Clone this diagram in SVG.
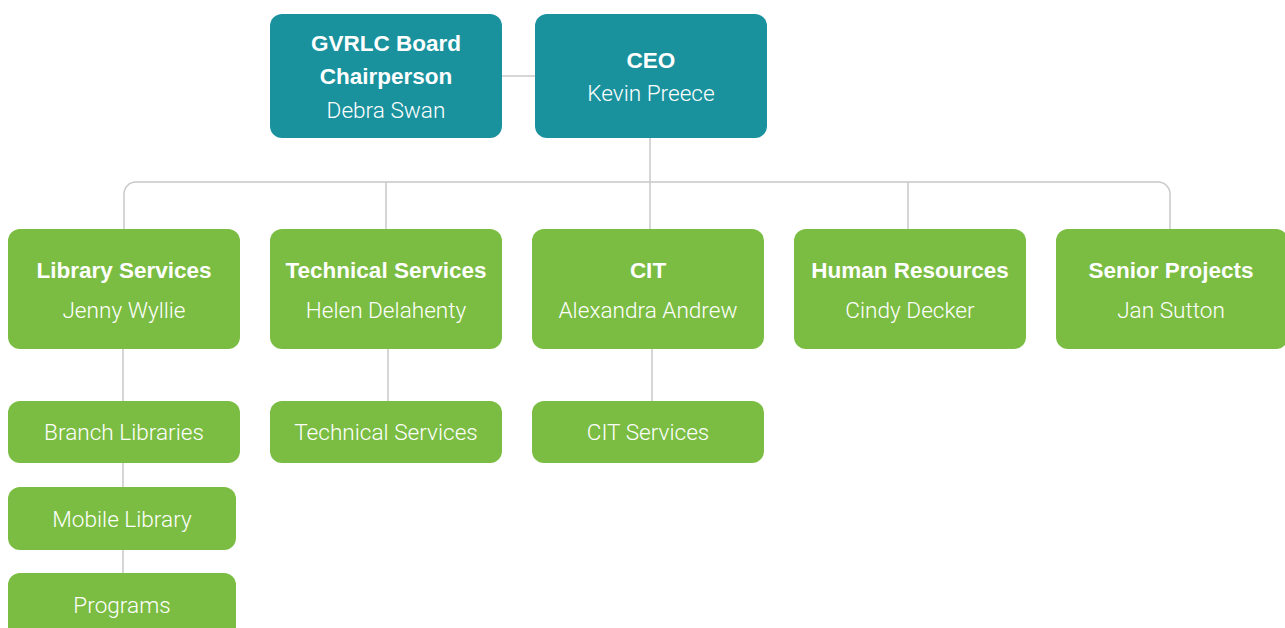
<svg xmlns="http://www.w3.org/2000/svg" width="1285" height="628" viewBox="0 0 1285 628">
<style>
.teal{fill:#1A929E}
.green{fill:#7ABD42}
.t{font-family:"Liberation Sans",Arial,sans-serif;font-weight:bold;font-size:22.5px;fill:#fff;text-anchor:middle}
.n{font-family:Roboto,"Liberation Sans",sans-serif;font-weight:300;font-size:22.6px;fill:#fff;text-anchor:middle}
.c{fill:none;stroke:#C8C8C8;stroke-width:1.5}
</style>
<rect width="1285" height="628" fill="#fff"/>
<g id="connectors">
<path class="c" d="M502 76H535"/>
<path class="c" d="M650 138V229"/>
<path class="c" d="M124 229V194a12 12 0 0 1 12-12H1158a12 12 0 0 1 12 12V229"/>
<path class="c" d="M386 182V229M908 182V229"/>
<path class="c" d="M123 349V401M123 463V487M123 550V573"/>
<path class="c" d="M388 349V401"/>
<path class="c" d="M652 349V401"/>
</g>
<g id="board"><rect class="teal" x="270" y="14" width="232" height="124" rx="12"/>
<text class="t" x="386" y="51">GVRLC Board</text><text class="t" x="386" y="84">Chairperson</text><text class="n" x="386" y="118">Debra Swan</text></g>
<g id="ceo"><rect class="teal" x="535" y="14" width="232" height="124" rx="12"/>
<text class="t" x="651" y="68">CEO</text><text class="n" x="651" y="101">Kevin Preece</text></g>
<g id="library"><rect class="green" x="8" y="229" width="232" height="120" rx="12"/>
<text class="t" x="124" y="278">Library Services</text><text class="n" x="124" y="318">Jenny Wyllie</text></g>
<g id="technical"><rect class="green" x="270" y="229" width="232" height="120" rx="12"/>
<text class="t" x="386" y="278">Technical Services</text><text class="n" x="386" y="318">Helen Delahenty</text></g>
<g id="cit"><rect class="green" x="532" y="229" width="232" height="120" rx="12"/>
<text class="t" x="648" y="278">CIT</text><text class="n" x="648" y="318">Alexandra Andrew</text></g>
<g id="hr"><rect class="green" x="794" y="229" width="232" height="120" rx="12"/>
<text class="t" x="910" y="278">Human Resources</text><text class="n" x="910" y="318">Cindy Decker</text></g>
<g id="senior"><rect class="green" x="1056" y="229" width="232" height="120" rx="12"/>
<text class="t" x="1171" y="278">Senior Projects</text><text class="n" x="1171" y="318">Jan Sutton</text></g>
<g id="branch"><rect class="green" x="8" y="401" width="232" height="62" rx="12"/>
<text class="n" x="124" y="440">Branch Libraries</text></g>
<g id="mobile"><rect class="green" x="8" y="487" width="228" height="63" rx="12"/>
<text class="n" x="122" y="527">Mobile Library</text></g>
<g id="programs"><rect class="green" x="8" y="573" width="228" height="70" rx="12"/>
<text class="n" x="122" y="613">Programs</text></g>
<g id="techsvc"><rect class="green" x="270" y="401" width="232" height="62" rx="12"/>
<text class="n" x="386" y="440">Technical Services</text></g>
<g id="citsvc"><rect class="green" x="532" y="401" width="232" height="62" rx="12"/>
<text class="n" x="648" y="440">CIT Services</text></g>
</svg>
